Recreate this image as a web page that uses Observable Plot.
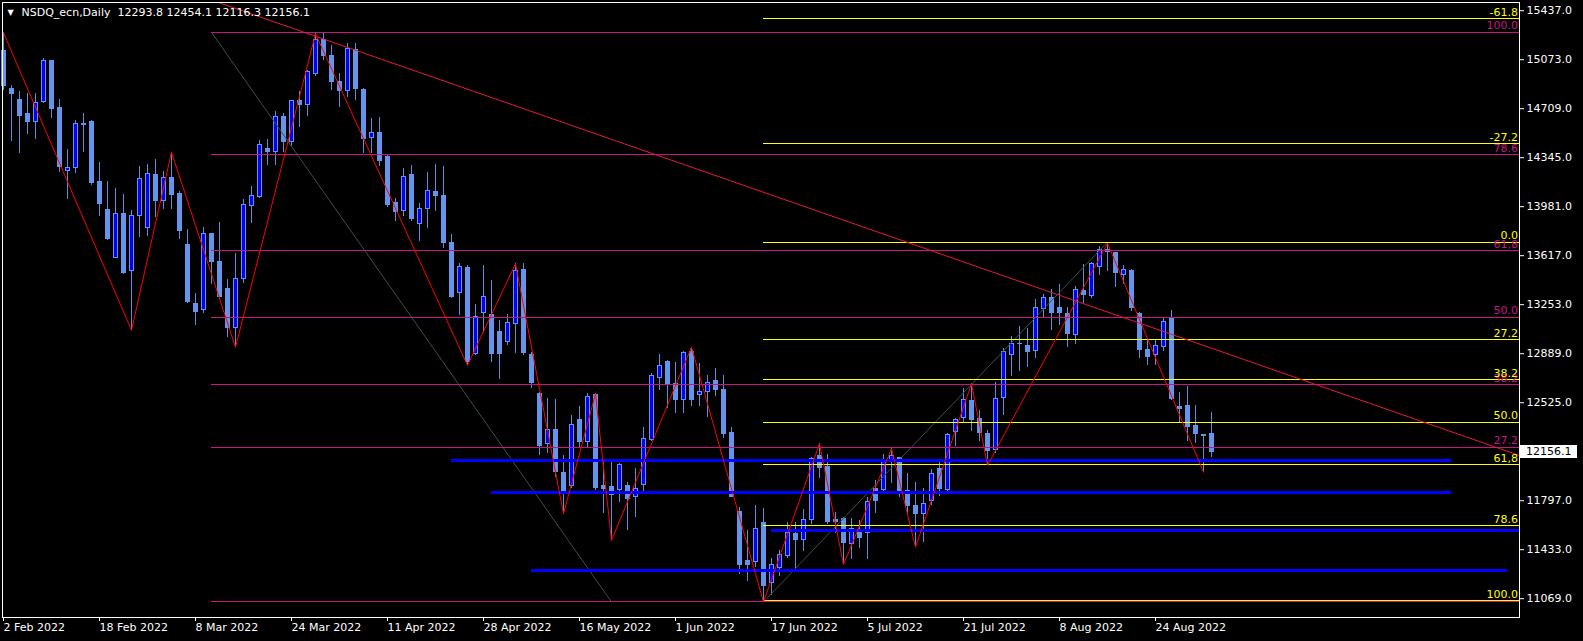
<!DOCTYPE html>
<html><head><meta charset="utf-8">
<script src="https://cdn.jsdelivr.net/npm/d3@7"></script>
<script src="https://cdn.jsdelivr.net/npm/@observablehq/plot@0.6"></script>
<style>
html,body{margin:0;padding:0;background:#000;}
#wrap{position:relative;width:1583px;height:641px;overflow:hidden;background:#000;}
#pricebox{position:absolute;left:1519px;width:51px;height:13px;background:#fff;color:#000;font:11px "DejaVu Sans",sans-serif;line-height:13px;padding-left:7px;}
</style></head><body><div id="wrap"></div>
<script>
const symbol = "NSDQ_ecn,Daily";
const opens = [15141,14857,14770,14666,14612,14760,15060,14711,14248,14267,14597,14607,14161,13953,13601,13928,13507,13913,13824,14220,14027,14196,14072,13700,13259,13210,13775,13569,13371,13081,13446,13985,14052,14411,14386,14646,14460,14763,14738,14968,15216,15097,14906,14837,15146,14849,14490,14530,14349,14010,13948,14213,13854,13965,14087,14064,13713,13339,13525,12888,13190,13180,13049,12975,13111,13512,12883,12586,12220,12324,12002,11905,12400,12232,12579,11903,11898,11878,11903,11824,11910,12250,12710,12826,12665,12546,12901,12579,12608,12683,12616,12301,11712,11346,11341,11630,11185,11296,11383,11546,11507,11650,12126,12047,11655,11663,11477,11563,11556,11885,11878,12084,12116,11868,11755,11695,11794,12034,11873,12306,12413,12536,12405,12289,12175,12561,12876,12963,12943,12908,13223,13304,13230,13185,13029,13354,13317,13532,13656,13636,13477,13507,13185,12918,12876,12938,13156,12492,12497,12353,12284,12293.8];
const highs = [15273,14881,14839,14820,14820,15079,15067,14775,14406,14621,14671,14621,14307,14168,14114,14069,13950,14280,14295,14332,14240,14386,14096,13809,13334,13824,13785,13866,13440,13631,14032,14134,14473,14478,14688,14676,14770,14839,14993,15265,15265,15178,14968,15196,15191,14856,14634,14641,14360,14040,14263,14287,14002,14238,14295,14280,13775,13557,13545,13255,13544,13433,13136,13180,13557,13557,12900,12603,12554,12549,12133,12430,12497,12591,12591,12083,12083,12071,11935,12034,12343,12740,12881,12840,12826,12908,12938,12814,12727,12777,12727,12343,11749,11576,11761,11737,11366,11428,11638,11638,11730,12121,12220,12138,11712,11675,11663,11650,11823,11947,12141,12183,12121,11997,11935,11885,12027,12091,12294,12405,12628,12666,12467,12319,12678,12925,13017,13091,13074,13289,13329,13364,13403,13235,13388,13552,13569,13685,13710,13644,13545,13515,13198,12987,12987,13156,13210,12603,12645,12504,12290,12454.1];
const lows = [14844,14468,14374,14517,14478,14750,14634,14238,14035,14230,14386,14139,13911,13730,13594,13478,13062,13755,13760,13903,13960,13958,13735,13265,13099,13185,13403,13309,13012,12937,13413,13859,14040,14290,14287,14380,14428,14572,14651,14948,15070,14844,14720,14795,14770,14379,14379,14280,13978,13871,13908,13871,13725,13822,13948,13668,13297,13173,12802,12875,13036,12826,12700,12950,12888,12876,12628,12133,12145,11972,11700,11885,12190,12195,11873,11700,11502,11781,11576,11670,11868,12240,12616,12480,12443,12443,12497,12497,12413,12571,12257,11818,11249,11197,11300,11044,11093,11234,11366,11279,11422,11620,11960,11620,11551,11323,11358,11440,11358,11700,11860,11923,11820,11700,11452,11489,11760,11828,11860,12200,12380,12314,12240,12059,12150,12430,12720,12760,12789,12851,13156,13062,13099,12938,12958,13260,13300,13470,13502,13379,13400,13205,12851,12802,12802,12908,12541,12373,12240,12220,12009,12116.3];
const closes = [14874,14820,14654,14609,14750,15065,14706,14275,14270,14597,14587,14156,14000,13738,13928,13487,13913,14188,14225,14022,14196,14069,13800,13270,13198,13775,13569,13309,13081,13443,13997,14057,14443,14391,14651,14460,14763,14740,14980,15220,15099,14906,14837,15154,14854,14485,14530,14317,13993,13938,14205,13886,13965,14094,14059,13710,13309,13532,12826,13163,13309,12888,12888,13119,13502,12893,12670,12202,12324,12009,11866,12361,12232,12571,11890,11885,11836,12059,11806,11885,12257,12720,12801,12665,12546,12896,12546,12608,12670,12621,12294,11828,11323,11323,11588,11167,11316,11390,11556,11502,11655,12108,12039,11638,11638,11482,11588,11519,11786,11794,12089,12126,11860,11755,11700,11774,11992,11885,12282,12393,12546,12393,12299,12165,12554,12901,12958,12958,12901,13230,13304,13190,13190,13032,13359,13327,13557,13656,13648,13487,13512,13227,12918,12868,12943,13124,12551,12480,12343,12289,12279,12156.1];

const dateTickBars = [0,12,24,36,48,60,72,84,96,108,120,132,144];
const dateTickLabels = ["2 Feb 2022","18 Feb 2022","8 Mar 2022","24 Mar 2022","11 Apr 2022","28 Apr 2022","16 May 2022","1 Jun 2022","17 Jun 2022","5 Jul 2022","21 Jul 2022","8 Aug 2022","24 Aug 2022"];
const priceTicks = [15437,15073,14709,14345,13981,13617,13253,12889,12525,11797,11433,11069];

const zigzagBars = [0,16,21,29,39,58,64,70,74,76,86,95,102,105,111,114,121,123,138,150];
const zigzagPrices = [15273,13062,14386,12937,15265,12802,13557,11700,12591,11502,12938,11044,12220,11323,12183,11452,12666,12059,13710,12009];

const trendBars = [26, 189.5];
const trendPrices = [15516, 12133];

const levelStartBars = [56, 61, 96, 66];
const levelEndBars = [181, 181, 189.5, 188];
const levelPrices = [12094, 11856, 11576, 11277];

// Fibonacci 1 (magenta): anchored from bar 26 high to bar 76 low
const fibABars = [26, 76];
const fibAAnchorPrices = [15276, 11045];
const fibALabels = ["100.0","78.6","61,8","50.0","38.2","27.2",""];
const fibAPrices = [15276,14368,13654,13160,12658,12193,11045];

// Fibonacci 2 (yellow): anchored from bar 95 low to bar 138 high
const fibBBars = [95, 138];
const fibBAnchorPrices = [11045, 13718];
const fibBLabels = ["-61.8","-27.2","0.0","27.2","38.2","50.0","61,8","78.6","100.0"];
const fibBPrices = [15376,14447,13718,12992,12695,12379,12066,11611,11052];

const X_MAX = 189.5;
const bars = opens.map((o, i) => ({i, o, h: highs[i], l: lows[i], c: closes[i]}));
const bulls = bars.filter(d => d.c >= d.o);
const bears = bars.filter(d => d.c < d.o);
const zz = zigzagBars.map((b, k) => ({i: b, p: zigzagPrices[k]}));
const trend = trendBars.map((b, k) => ({i: b, p: trendPrices[k]}));
const levels = levelPrices.map((p, k) => ({p, x1: levelStartBars[k], x2: levelEndBars[k]}));
const fibA = fibAPrices.map((p, k) => ({p, label: fibALabels[k]}));
const fibB = fibBPrices.map((p, k) => ({p, label: fibBLabels[k]}));
const diag = [
  {x1: fibABars[0], y1: fibAAnchorPrices[0], x2: fibABars[1], y2: fibAAnchorPrices[1]},
  {x1: fibBBars[0], y1: fibBAnchorPrices[0], x2: fibBBars[1], y2: fibBAnchorPrices[1]}
];
const last = bars[bars.length - 1];
const header = symbol + "\u00a0\u00a0" + [last.o, last.h, last.l, last.c].map(v => v.toFixed(1)).join("\u00a0");

const wick = "#5b8de0";
const light = "#6495ed";
const magenta = "#c71585";
const yellow = "#ffff00";
const crisp = "crispEdges";

const chart = Plot.plot({
  width: 1583, height: 641,
  marginLeft: 2, marginRight: 64, marginTop: 2, marginBottom: 24,
  style: {background: "#000", color: "#fff", fontFamily: "DejaVu Sans, sans-serif", fontSize: "11px", overflow: "visible"},
  x: {domain: [-0.125, X_MAX], axis: null, label: null},
  y: {domain: [10929.4, 15497.9], axis: null, label: null},
  marks: [
    Plot.ruleX(bars, {x: "i", y1: "l", y2: "h", stroke: wick, strokeWidth: 1, shapeRendering: crisp}),
    Plot.rect(bears, {x1: d => d.i - 0.25, x2: d => d.i + 0.25, y1: "o", y2: "c", fill: light, stroke: light, strokeWidth: 1, shapeRendering: crisp}),
    Plot.rect(bulls, {x1: d => d.i - 0.25, x2: d => d.i + 0.25, y1: "o", y2: "c", fill: "#0000ff", stroke: light, strokeWidth: 1, shapeRendering: crisp}),
    Plot.link(diag, {x1: "x1", y1: "y1", x2: "x2", y2: "y2", stroke: "#35524b", strokeWidth: 1}),
    Plot.ruleY(fibA, {y: "p", x1: fibABars[0], x2: X_MAX, stroke: magenta, strokeWidth: 1, shapeRendering: crisp}),
    Plot.ruleY(fibB, {y: "p", x1: fibBBars[0], x2: X_MAX, stroke: yellow, strokeWidth: 1, shapeRendering: crisp}),
    Plot.ruleY(levels, {y: "p", x1: "x1", x2: "x2", stroke: "#0000ff", strokeWidth: 3, shapeRendering: crisp}),
    Plot.line(zz, {x: "i", y: "p", stroke: "#ff0000", strokeWidth: 1}),
    Plot.line(trend, {x: "i", y: "p", stroke: "#e8173f", strokeWidth: 1, clip: true}),
    Plot.text(fibA, {y: "p", text: "label", frameAnchor: "right", textAnchor: "end", lineAnchor: "middle", dx: -1.5, dy: -6.5, fill: magenta, fontSize: 11}),
    Plot.text(fibB, {y: "p", text: "label", frameAnchor: "right", textAnchor: "end", lineAnchor: "middle", dx: -1.5, dy: -6.5, fill: yellow, fontSize: 11}),
    Plot.frame({stroke: "#fff", strokeWidth: 1, shapeRendering: crisp}),
    Plot.axisY(priceTicks, {anchor: "right", tickSize: 4, tickPadding: 3, tickFormat: d => d.toFixed(1), stroke: "#fff", fill: "#fff", fontSize: 11, label: null}),
    Plot.axisX(dateTickBars, {anchor: "bottom", tickSize: 4, tickPadding: 2, tickFormat: d => dateTickLabels[dateTickBars.indexOf(d)], textAnchor: "start", dx: 0, stroke: "#fff", fill: "#fff", fontSize: 11, label: null}),
    Plot.text([header], {frameAnchor: "top-left", text: d => d, dx: 19, dy: 6, textAnchor: "start", lineAnchor: "top", fill: "#fff", fontSize: 11}),
    Plot.text(["\u25bc"], {frameAnchor: "top-left", text: d => d, dx: 5, dy: 7, textAnchor: "start", lineAnchor: "top", fill: "#fff", fontSize: 8})
  ]
});
const wrap = document.getElementById("wrap");
wrap.appendChild(chart);
const yPix = chart.scale("y").apply(last.c);
const box = document.createElement("div");
box.id = "pricebox";
box.style.top = (yPix - 6.5) + "px";
box.textContent = last.c.toFixed(1);
wrap.appendChild(box);
</script></body></html>
